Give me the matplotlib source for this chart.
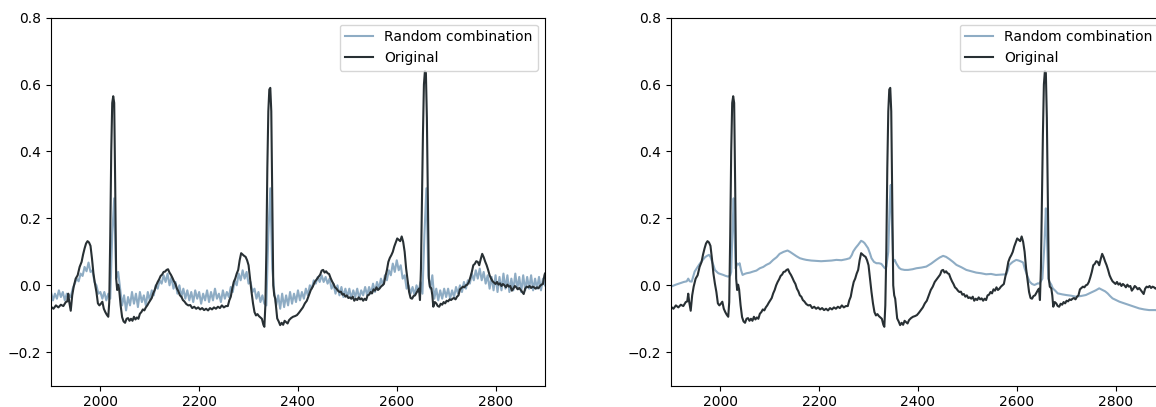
import numpy as np
import matplotlib
matplotlib.use("Agg")
import matplotlib.pyplot as plt

# ---------------- data ----------------
orig_t = [1900, 1905, 1910, 1915, 1920, 1925, 1930, 1933, 1935, 1937, 1940, 1943, 1946, 1950, 1954,
          1958, 1962, 1965, 1968, 1971, 1974, 1977, 1980, 1983, 1986, 1989, 1992, 1995, 1998, 2001,
          2004, 2007, 2010, 2013, 2016, 2018, 2020, 2022, 2024, 2026, 2028, 2030, 2032, 2034, 2036,
          2038, 2041, 2044, 2047, 2050, 2053, 2056, 2059, 2062, 2065, 2068, 2071, 2074, 2077, 2080,
          2083, 2086, 2089, 2092, 2095, 2098, 2101, 2104, 2107, 2110, 2113, 2116, 2119, 2122, 2125,
          2128, 2131, 2134, 2137, 2140, 2143, 2146, 2149, 2152, 2155, 2158, 2161, 2164, 2167, 2170,
          2174, 2178, 2182, 2186, 2190, 2194, 2198, 2202, 2206, 2210, 2214, 2218, 2222, 2226, 2230,
          2234, 2238, 2242, 2246, 2250, 2254, 2258, 2261, 2264, 2267, 2270, 2273, 2276, 2279, 2282,
          2285, 2288, 2291, 2294, 2297, 2300, 2303, 2306, 2309, 2312, 2315, 2318, 2321, 2324, 2327,
          2330, 2332, 2334, 2336, 2338, 2340, 2342, 2344, 2346, 2348, 2350, 2352, 2354, 2356, 2358,
          2361, 2364, 2367, 2370, 2373, 2376, 2379, 2382, 2386, 2390, 2394, 2398, 2402, 2406, 2410,
          2414, 2418, 2422, 2426, 2430, 2434, 2438, 2442, 2445, 2448, 2451, 2454, 2457, 2460, 2463,
          2466, 2469, 2472, 2475, 2478, 2481, 2484, 2487, 2490, 2493, 2496, 2499, 2502, 2505, 2508,
          2511, 2514, 2517, 2520, 2523, 2526, 2529, 2532, 2535, 2538, 2541, 2544, 2547, 2550, 2553,
          2556, 2559, 2562, 2565, 2568, 2571, 2574, 2577, 2580, 2583, 2586, 2589, 2592, 2595, 2598,
          2601, 2604, 2607, 2610, 2613, 2616, 2619, 2622, 2625, 2628, 2631, 2634, 2637, 2640, 2643,
          2645, 2647, 2649, 2651, 2653, 2655, 2657, 2659, 2661, 2663, 2665, 2667, 2670, 2672, 2674,
          2677, 2680, 2683, 2686, 2689, 2692, 2695, 2698, 2701, 2704, 2707, 2710, 2713, 2716, 2719,
          2722, 2725, 2728, 2731, 2734, 2737, 2740, 2743, 2746, 2749, 2752, 2755, 2758, 2761, 2764,
          2767, 2770, 2773, 2776, 2779, 2782, 2785, 2788, 2791, 2794, 2797, 2800, 2803, 2806, 2809,
          2812, 2815, 2818, 2821, 2824, 2827, 2830, 2833, 2836, 2839, 2842, 2845, 2848, 2851, 2854,
          2857, 2860, 2863, 2866, 2869, 2872, 2875, 2878, 2881, 2884, 2887, 2890, 2893, 2896, 2899,
          2900]
orig_v = [-0.064, -0.070, -0.060, -0.066, -0.058, -0.062, -0.050, -0.048, -0.025, -0.050, -0.076, -0.030, -0.004, 0.020, 0.030,
          0.055, 0.070, 0.092, 0.110, 0.125, 0.132, 0.128, 0.118, 0.080, 0.035, 0.005, -0.020, -0.054, -0.060, -0.055,
          -0.049, -0.070, -0.080, -0.088, -0.094, -0.050, 0.150, 0.400, 0.545, 0.565, 0.545, 0.300, 0.020, -0.014, 0.002,
          -0.012, -0.060, -0.095, -0.108, -0.112, -0.100, -0.098, -0.106, -0.100, -0.106, -0.094, -0.102, -0.096, -0.100, -0.085,
          -0.080, -0.072, -0.075, -0.066, -0.060, -0.052, -0.045, -0.038, -0.024, -0.014, 0.000, 0.010, 0.018, 0.028, 0.032,
          0.040, 0.041, 0.046, 0.048, 0.038, 0.031, 0.022, 0.012, 0.004, -0.010, -0.018, -0.030, -0.034, -0.044, -0.048,
          -0.056, -0.060, -0.059, -0.068, -0.064, -0.070, -0.066, -0.072, -0.068, -0.074, -0.070, -0.075, -0.068, -0.072, -0.066,
          -0.070, -0.064, -0.068, -0.060, -0.066, -0.062, -0.062, -0.045, -0.034, -0.010, 0.010, 0.020, 0.035, 0.046, 0.075,
          0.096, 0.092, 0.088, 0.085, 0.075, 0.060, 0.020, -0.020, -0.054, -0.080, -0.090, -0.086, -0.092, -0.096, -0.100,
          -0.118, -0.124, -0.060, 0.100, 0.350, 0.520, 0.585, 0.590, 0.520, 0.250, 0.000, -0.030, -0.040, -0.070, -0.099,
          -0.108, -0.119, -0.112, -0.118, -0.106, -0.110, -0.114, -0.104, -0.098, -0.094, -0.092, -0.089, -0.082, -0.074, -0.066,
          -0.054, -0.046, -0.030, -0.014, -0.004, 0.010, 0.018, 0.026, 0.032, 0.044, 0.046, 0.038, 0.042, 0.036, 0.034,
          0.022, 0.012, 0.004, -0.006, -0.010, -0.016, -0.020, -0.019, -0.028, -0.026, -0.034, -0.030, -0.038, -0.036, -0.040,
          -0.034, -0.046, -0.040, -0.044, -0.036, -0.042, -0.039, -0.046, -0.040, -0.044, -0.030, -0.028, -0.020, -0.024, -0.012,
          -0.016, -0.006, -0.014, -0.010, -0.004, 0.000, 0.004, 0.026, 0.045, 0.070, 0.082, 0.090, 0.100, 0.116, 0.128,
          0.140, 0.136, 0.132, 0.146, 0.130, 0.100, 0.050, 0.016, -0.020, -0.038, -0.040, -0.032, -0.030, -0.022, -0.014,
          -0.010, -0.044, 0.050, 0.250, 0.450, 0.600, 0.640, 0.635, 0.500, 0.250, 0.020, -0.004, -0.009, -0.030, -0.064,
          -0.050, -0.054, -0.062, -0.064, -0.055, -0.058, -0.050, -0.054, -0.046, -0.048, -0.042, -0.044, -0.040, -0.038, -0.042,
          -0.034, -0.030, -0.012, -0.008, -0.004, -0.006, 0.000, 0.002, 0.010, 0.024, 0.040, 0.060, 0.064, 0.072, 0.070,
          0.060, 0.078, 0.094, 0.084, 0.071, 0.060, 0.046, 0.030, 0.020, 0.012, 0.008, 0.004, 0.010, 0.002, 0.006,
          -0.002, 0.004, 0.000, -0.006, 0.002, -0.004, -0.002, -0.016, -0.010, -0.002, -0.006, -0.012, -0.008, -0.014, -0.020,
          -0.026, -0.010, -0.004, -0.006, -0.002, -0.008, -0.004, -0.006, -0.010, -0.006, -0.009, -0.002, 0.002, 0.004, 0.030,
          0.035]

# Random combination, left panel: samples every 4 units from 1900 to 2900
rand1_t = list(range(1900, 2901, 4))
rand1_v = [-0.020, -0.045, -0.025, -0.040, -0.015, -0.035, -0.020, -0.045, -0.025, -0.030,
           -0.035, -0.010, 0.005, 0.020, 0.012, 0.035, 0.028, 0.055, 0.042, 0.068,
           0.040, 0.045, 0.010, 0.000, -0.025, -0.020, -0.040, -0.020, -0.045, -0.025,
           -0.040, 0.150, 0.260, 0.020, 0.040, -0.010, -0.060, -0.030, -0.075, -0.035,
           -0.060, -0.020, -0.055, -0.025, -0.065, -0.020, -0.050, -0.030, -0.060, -0.020,
           -0.045, -0.015, -0.030, 0.000, -0.010, 0.015, 0.005, 0.030, 0.010, 0.035,
           0.000, 0.025, -0.010, 0.010, -0.025, 0.000, -0.035, -0.010, -0.040, -0.015,
           -0.045, -0.020, -0.050, -0.015, -0.040, -0.020, -0.055, -0.025, -0.045, -0.015,
           -0.050, -0.020, -0.045, -0.010, -0.040, -0.025, -0.050, -0.015, -0.040, -0.020,
           -0.035, -0.005, -0.020, 0.015, 0.000, 0.035, 0.015, 0.045, 0.020, 0.040,
           0.005, 0.010, -0.020, -0.010, -0.040, -0.020, -0.050, -0.030, -0.055, -0.060,
           0.150, 0.290, 0.050, -0.020, -0.060, -0.030, -0.070, -0.025, -0.065, -0.030,
           -0.060, -0.020, -0.055, -0.025, -0.050, -0.015, -0.045, -0.020, -0.040, -0.010,
           -0.030, 0.000, -0.010, 0.015, 0.005, 0.025, 0.010, 0.030, 0.010, 0.025,
           0.005, 0.020, -0.010, 0.005, -0.025, 0.000, -0.030, -0.005, -0.035, -0.010,
           -0.035, -0.010, -0.040, -0.015, -0.035, -0.010, -0.040, -0.015, -0.030, -0.005,
           -0.030, -0.005, -0.025, 0.005, -0.020, 0.010, -0.010, 0.020, 0.000, 0.030,
           0.015, 0.045, 0.030, 0.065, 0.040, 0.075, 0.045, 0.060, 0.020, 0.030,
           -0.010, 0.000, -0.025, -0.005, -0.030, 0.000, -0.020, 0.010, -0.025, 0.150,
           0.290, 0.030, -0.010, 0.030, -0.040, -0.010, -0.045, -0.015, -0.040, -0.010,
           -0.035, -0.010, -0.040, -0.015, -0.035, -0.005, -0.025, 0.000, -0.020, 0.010,
           -0.010, 0.015, 0.005, 0.035, 0.015, 0.045, 0.020, 0.050, 0.015, 0.040,
           0.005, 0.030, -0.010, 0.025, -0.015, 0.030, -0.020, 0.025, -0.015, 0.035,
           -0.010, 0.030, -0.020, 0.020, -0.015, 0.035, -0.010, 0.025, -0.020, 0.030,
           -0.015, 0.025, -0.010, 0.030, -0.015, 0.020, -0.010, 0.025, -0.015, 0.020,
           0.000]

# Random combination, right panel
rand2_t = [1900, 1910, 1918, 1926, 1932, 1935, 1938, 1942, 1948, 1954, 1959, 1964, 1969, 1973, 1977,
           1980, 1982, 1986, 1989, 1993, 1996, 2000, 2006, 2011, 2016, 2020, 2022, 2025, 2027, 2029,
           2031, 2034, 2037, 2039, 2042, 2045, 2049, 2053, 2060, 2066, 2073, 2080, 2087, 2093, 2100,
           2107, 2114, 2120, 2128, 2136, 2141, 2147, 2154, 2161, 2168, 2174, 2184, 2194, 2204, 2215,
           2225, 2235, 2245, 2255, 2262, 2266, 2269, 2274, 2279, 2285, 2289, 2292, 2299, 2303, 2306,
           2311, 2316, 2321, 2326, 2333, 2336, 2340, 2343, 2345, 2347, 2350, 2353, 2356, 2358, 2362,
           2366, 2373, 2380, 2389, 2397, 2407, 2417, 2427, 2437, 2444, 2451, 2457, 2464, 2471, 2478,
           2488, 2498, 2508, 2518, 2528, 2538, 2548, 2558, 2568, 2579, 2582, 2585, 2592, 2599, 2604,
           2609, 2613, 2616, 2621, 2626, 2631, 2636, 2643, 2646, 2652, 2656, 2659, 2661, 2664, 2666,
           2670, 2673, 2678, 2683, 2692, 2700, 2710, 2720, 2730, 2740, 2747, 2754, 2760, 2767, 2771,
           2774, 2779, 2784, 2789, 2794, 2801, 2808, 2818, 2828, 2838, 2848, 2858, 2868, 2880, 2890,
           2900]
rand2_v = [-0.004, 0.002, 0.006, 0.010, 0.012, 0.020, 0.012, 0.011, 0.041, 0.055, 0.066, 0.075, 0.084, 0.088, 0.091,
           0.085, 0.076, 0.060, 0.046, 0.040, 0.036, 0.034, 0.031, 0.028, 0.026, 0.030, 0.040, 0.180, 0.260, 0.150,
           0.050, 0.065, 0.062, 0.066, 0.045, 0.031, 0.034, 0.036, 0.038, 0.041, 0.044, 0.051, 0.055, 0.061, 0.066,
           0.076, 0.084, 0.094, 0.100, 0.104, 0.100, 0.094, 0.087, 0.081, 0.078, 0.076, 0.074, 0.073, 0.072, 0.073,
           0.074, 0.076, 0.075, 0.078, 0.081, 0.090, 0.101, 0.112, 0.121, 0.133, 0.130, 0.126, 0.111, 0.095, 0.081,
           0.070, 0.066, 0.066, 0.064, 0.051, 0.055, 0.100, 0.250, 0.300, 0.200, 0.070, 0.076, 0.066, 0.061, 0.052,
           0.048, 0.046, 0.046, 0.048, 0.051, 0.053, 0.056, 0.065, 0.076, 0.083, 0.088, 0.085, 0.078, 0.070, 0.061,
           0.054, 0.046, 0.042, 0.038, 0.036, 0.033, 0.034, 0.031, 0.032, 0.033, 0.045, 0.061, 0.070, 0.076, 0.074,
           0.071, 0.068, 0.051, 0.030, 0.011, 0.004, 0.001, 0.006, 0.005, 0.020, 0.120, 0.230, 0.150, 0.020, 0.011,
           0.002, -0.009, -0.016, -0.024, -0.027, -0.029, -0.031, -0.034, -0.032, -0.029, -0.024, -0.019, -0.015, -0.009, -0.012,
           -0.014, -0.018, -0.024, -0.032, -0.039, -0.044, -0.049, -0.054, -0.059, -0.064, -0.069, -0.072, -0.074, -0.074, -0.075,
           -0.076]

legend_labels = ["Random combination", "Original"]
x_ticks = [2000, 2200, 2400, 2600, 2800]

blue = "#8eacc4"
dark = "#283034"

fig = plt.figure(figsize=(11.56, 4.07), dpi=100)
ax1 = fig.add_axes([0.0441, 0.0523, 0.4273, 0.9045])
ax2 = fig.add_axes([0.5804, 0.0523, 0.4273, 0.9045])

for ax, (rt, rv) in zip([ax1, ax2], [(rand1_t, rand1_v), (rand2_t, rand2_v)]):
    ax.plot(rt, rv, color=blue, lw=1.5, label=legend_labels[0])
    ax.plot(orig_t, orig_v, color=dark, lw=1.5, label=legend_labels[1])
    ax.set_xlim(1900, 2900)
    ax.set_ylim(-0.3, 0.8)
    ax.set_xticks(x_ticks)
    ax.tick_params(labelsize=10)
    ax.legend(loc="upper right", fontsize=10)

fig.savefig("out.png", dpi=100)
